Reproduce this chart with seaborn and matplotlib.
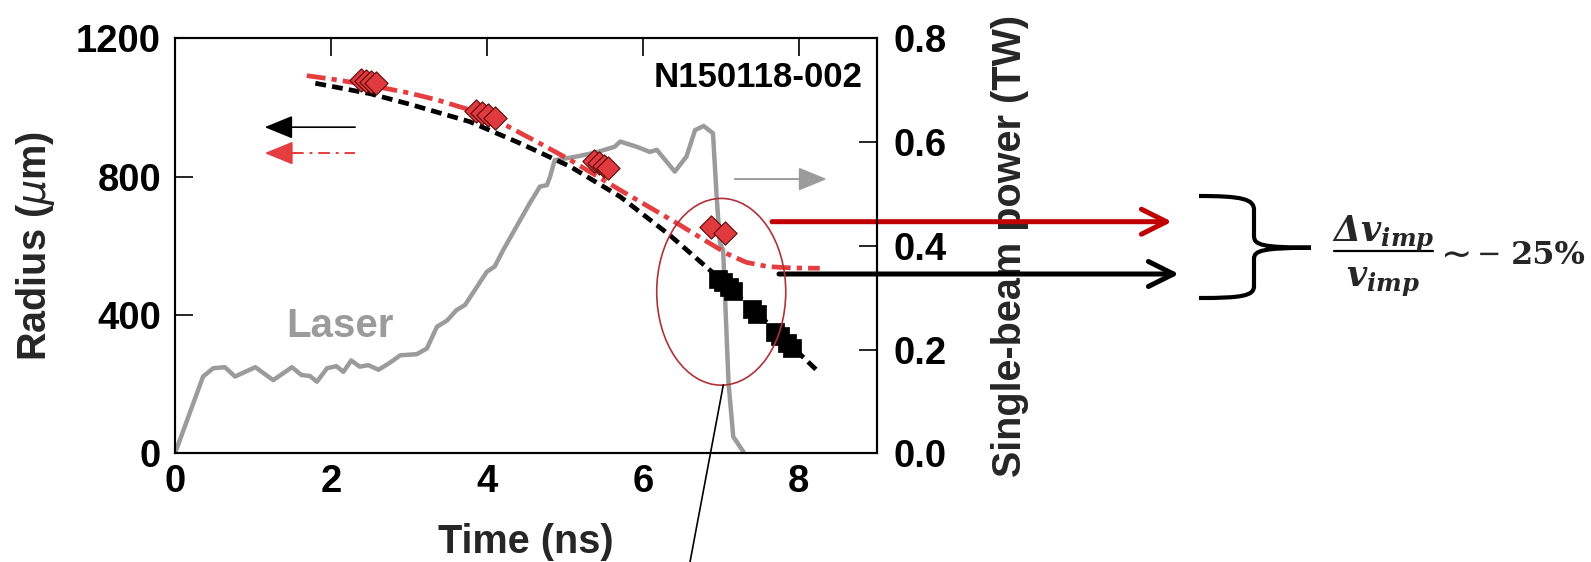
import numpy as np
import pandas as pd
import matplotlib
matplotlib.use("Agg")
import matplotlib.pyplot as plt
import seaborn as sns
from matplotlib.patches import Ellipse, PathPatch, FancyArrowPatch
from matplotlib.path import Path
from matplotlib.lines import Line2D

# ---------------- data ----------------
laser_time = [0.0, 0.36, 0.49, 0.64, 0.77, 1.03, 1.26, 1.50, 1.62, 1.73, 1.82, 1.95,
              2.07, 2.16, 2.26, 2.37, 2.48, 2.61, 2.76, 2.89, 3.10, 3.23, 3.36, 3.49,
              3.61, 3.72, 4.00, 4.10, 4.21, 4.38, 4.55, 4.68, 4.77, 4.81, 4.87, 5.15,
              5.40, 5.64, 5.71, 5.92, 6.09, 6.18, 6.41, 6.56, 6.67, 6.78, 6.90, 6.95,
              6.99, 7.03, 7.10, 7.16, 7.29]
laser_power = [0.0, 0.148, 0.164, 0.166, 0.148, 0.166, 0.141, 0.166, 0.151, 0.149, 0.138, 0.164,
               0.168, 0.157, 0.179, 0.167, 0.170, 0.161, 0.175, 0.189, 0.191, 0.202, 0.244, 0.256,
               0.276, 0.286, 0.350, 0.360, 0.392, 0.437, 0.482, 0.514, 0.517, 0.533, 0.565, 0.572,
               0.580, 0.591, 0.601, 0.591, 0.581, 0.585, 0.543, 0.572, 0.623, 0.631, 0.617, 0.488,
               0.405, 0.392, 0.135, 0.032, 0.003]

fit_red_time = [1.69, 2.07, 2.50, 3.00, 3.36, 4.00, 4.43, 4.64, 5.07, 5.71, 6.44, 6.86,
                7.10, 7.33, 7.60, 7.90, 8.27]
fit_red_radius = [1092, 1080, 1064, 1042, 1022, 978, 926, 901, 848, 761, 665, 607,
                  575, 552, 540, 536, 535]

fit_black_time = [1.80, 2.50, 3.00, 3.78, 4.43, 5.07, 5.71, 6.35, 6.90, 7.50, 8.27]
fit_black_radius = [1070, 1040, 1010, 959, 896, 829, 742, 630, 522, 398, 232]

diamond_time = [2.38, 2.45, 2.52, 2.58, 3.86, 3.94, 4.02, 4.10,
                5.38, 5.44, 5.50, 5.56, 6.88, 7.05]
diamond_radius = [1078, 1076, 1073, 1070, 990, 984, 978, 970,
                  845, 838, 831, 824, 655, 636]

square_time = [6.97, 7.03, 7.10, 7.16, 7.40, 7.47, 7.70, 7.76, 7.85, 7.92]
square_radius = [505, 494, 482, 470, 418, 404, 352, 340, 318, 304]

x_ticks = [0, 2, 4, 6, 8]
y_ticks = [0, 400, 800, 1200]
y2_ticks = [0.0, 0.2, 0.4, 0.6, 0.8]

laser_df = pd.DataFrame({"time": laser_time, "power": laser_power})
red_df = pd.DataFrame({"time": fit_red_time, "radius": fit_red_radius})
black_df = pd.DataFrame({"time": fit_black_time, "radius": fit_black_radius})
dia_df = pd.DataFrame({"time": diamond_time, "radius": diamond_radius})
sq_df = pd.DataFrame({"time": square_time, "radius": square_radius})

# ---------------- style ----------------
sns.set_theme(style="white")
plt.rcParams["font.family"] = ["Liberation Sans", "DejaVu Sans"]
plt.rcParams["mathtext.fontset"] = "dejavusans"

W, H = 1591, 562
fig = plt.figure(figsize=(W / 100, H / 100), dpi=100)
ax = fig.add_axes([175 / W, 1 - 453.3 / H, 701.7 / W, 415 / H])
ax2 = ax.twinx()

GRAY = "#9b9b9b"
RED = "#e53e41"

# laser trace (right axis)
sns.lineplot(data=laser_df, x="time", y="power", ax=ax2, color=GRAY, lw=3.2,
             estimator=None, sort=False)

ax.set_zorder(ax2.get_zorder() + 1)
ax.patch.set_visible(False)

# fits
sns.lineplot(data=black_df, x="time", y="radius", ax=ax, color="black", lw=3.4,
             linestyle=(0, (2.3, 1.3)), estimator=None, sort=False)
sns.lineplot(data=red_df, x="time", y="radius", ax=ax, color=RED, lw=3.4,
             linestyle=(0, (4.0, 1.3, 1.1, 1.3)), estimator=None, sort=False)

# data points
sns.scatterplot(data=dia_df, x="time", y="radius", ax=ax, marker="D", s=140,
                color="#e03a3e", edgecolor="#5a0a0a", linewidth=0.8, zorder=5)
sns.scatterplot(data=sq_df, x="time", y="radius", ax=ax, marker="s", s=170,
                color="black", edgecolor="black", linewidth=0.5, zorder=5)

# axes limits/ticks
ax.set_xlim(0, 9)
ax.set_ylim(0, 1200)
ax2.set_ylim(0, 0.8)
ax.set_xticks(x_ticks)
ax.set_yticks(y_ticks)
ax2.set_yticks(y2_ticks)
ax2.set_yticklabels([f"{v:.1f}" for v in y2_ticks])

TICK_FS = 27.5
LABEL_FS = 28.5
for a in (ax, ax2):
    for s in a.spines.values():
        s.set_linewidth(1.5)
        s.set_color("black")
ax.tick_params(axis="both", direction="in", length=13, width=1.2, colors="black",
               labelsize=TICK_FS, top=True, right=False, pad=8)
ax.tick_params(axis="y", pad=10)
ax2.tick_params(axis="y", direction="in", length=13, width=1.2, colors="black",
                labelsize=TICK_FS, pad=12)
for lab in ax.get_xticklabels() + ax.get_yticklabels() + ax2.get_yticklabels():
    lab.set_fontweight("bold")

ax.set_xlabel("Time (ns)", fontsize=LABEL_FS, fontweight="bold", labelpad=16)
ax.set_ylabel(r"Radius ($\mu$m)", fontsize=LABEL_FS, fontweight="bold", labelpad=14)
ax2.set_ylabel("Single-beam power (TW)", fontsize=LABEL_FS, fontweight="bold", labelpad=32)

# texts
ax.text(0.98, 0.945, "N150118-002", transform=ax.transAxes, ha="right", va="top",
        fontsize=25, fontweight="bold", color="black")
ax.text(1.43, 337, "Laser", ha="left", va="baseline", fontsize=29,
        fontweight="bold", color=GRAY)

# direction arrows inside axes
ax.annotate("", xy=(1.15, 943), xytext=(2.31, 943),
            arrowprops=dict(arrowstyle="-|>,head_length=1.1,head_width=0.45",
                            color="black", lw=1.2, shrinkA=0, shrinkB=0,
                            mutation_scale=16))
ax.plot([1.5, 2.31], [868, 868], color=RED, lw=1.4, linestyle=(0, (6, 3, 1.5, 3)))
ax.annotate("", xy=(1.15, 868), xytext=(1.55, 868),
            arrowprops=dict(arrowstyle="-|>,head_length=1.1,head_width=0.45",
                            color=RED, lw=1.4, shrinkA=0, shrinkB=0,
                            mutation_scale=16))
ax.annotate("", xy=(8.36, 793), xytext=(7.18, 793),
            arrowprops=dict(arrowstyle="-|>,head_length=1.1,head_width=0.45",
                            color=GRAY, lw=1.4, shrinkA=0, shrinkB=0,
                            mutation_scale=16))

# ellipse
ax.add_patch(Ellipse((7.006, 467), width=1.655, height=540, fill=False,
                     edgecolor="#b13138", lw=1.2, zorder=6))

# thin pointer line from ellipse to bottom of figure
fig.add_artist(Line2D([723.3 / W, 690 / W], [1 - 385 / H, 0.0],
                      color="black", lw=1.2, transform=fig.transFigure))


def P(x, y):
    return (x / W, 1 - y / H)


# big arrows outside
def fig_arrow(x0, x1, y, color):
    fig.add_artist(FancyArrowPatch(
        P(x0, y), P(x1, y), transform=fig.transFigure,
        arrowstyle="->,head_length=0.9,head_width=0.45", mutation_scale=20,
        color=color, lw=3.6, shrinkA=0, shrinkB=0, capstyle="round",
        joinstyle="round"))


fig_arrow(772, 1172, 221.7, "#c00000")
fig_arrow(779, 1179, 274.0, "black")

# curly brace
verts = [P(1199, 196), P(1242, 196), P(1254, 199), P(1254, 210),
         P(1254, 236),
         P(1254, 245), P(1262, 247.5), P(1311, 247.7),
         P(1262, 248), P(1254, 250.5), P(1254, 259),
         P(1254, 286),
         P(1254, 296), P(1242, 298), P(1199, 298)]
codes = [Path.MOVETO, Path.CURVE4, Path.CURVE4, Path.CURVE4,
         Path.LINETO,
         Path.CURVE4, Path.CURVE4, Path.CURVE4,
         Path.CURVE4, Path.CURVE4, Path.CURVE4,
         Path.LINETO,
         Path.CURVE4, Path.CURVE4, Path.CURVE4]
fig.add_artist(PathPatch(Path(verts, codes), transform=fig.transFigure,
                         fill=False, edgecolor="black", lw=3, capstyle="butt"))

# formula: fraction built from numerator, bar and denominator
FX0, FX1 = 1334, 1433
fig.text(*P((FX0 + FX1) / 2, 241), r"$\mathbfit{\Delta v}_{\mathbfit{imp}}$",
         ha="center", va="baseline", fontsize=25, math_fontfamily="dejavuserif")
fig.add_artist(Line2D([FX0 / W, FX1 / W], [1 - 251 / H, 1 - 251 / H],
                      color="black", lw=1.6, transform=fig.transFigure))
fig.text(*P((FX0 + FX1) / 2, 286), r"$\mathbfit{v}_{\mathbfit{imp}}$",
         ha="center", va="baseline", fontsize=25, math_fontfamily="dejavuserif")
fig.text(*P(1456, 251.5), "\u223c", ha="center", va="center_baseline",
         fontsize=27, family="DejaVu Sans")
fig.text(*P(1489, 251.5), "\u2212", ha="center", va="center_baseline",
         fontsize=21, family="DejaVu Sans")
fig.text(*P(1511, 263.5), "25%", ha="left", va="baseline",
         fontsize=23, fontweight="bold", family="DejaVu Serif")

fig.savefig("out.png", dpi=100)
